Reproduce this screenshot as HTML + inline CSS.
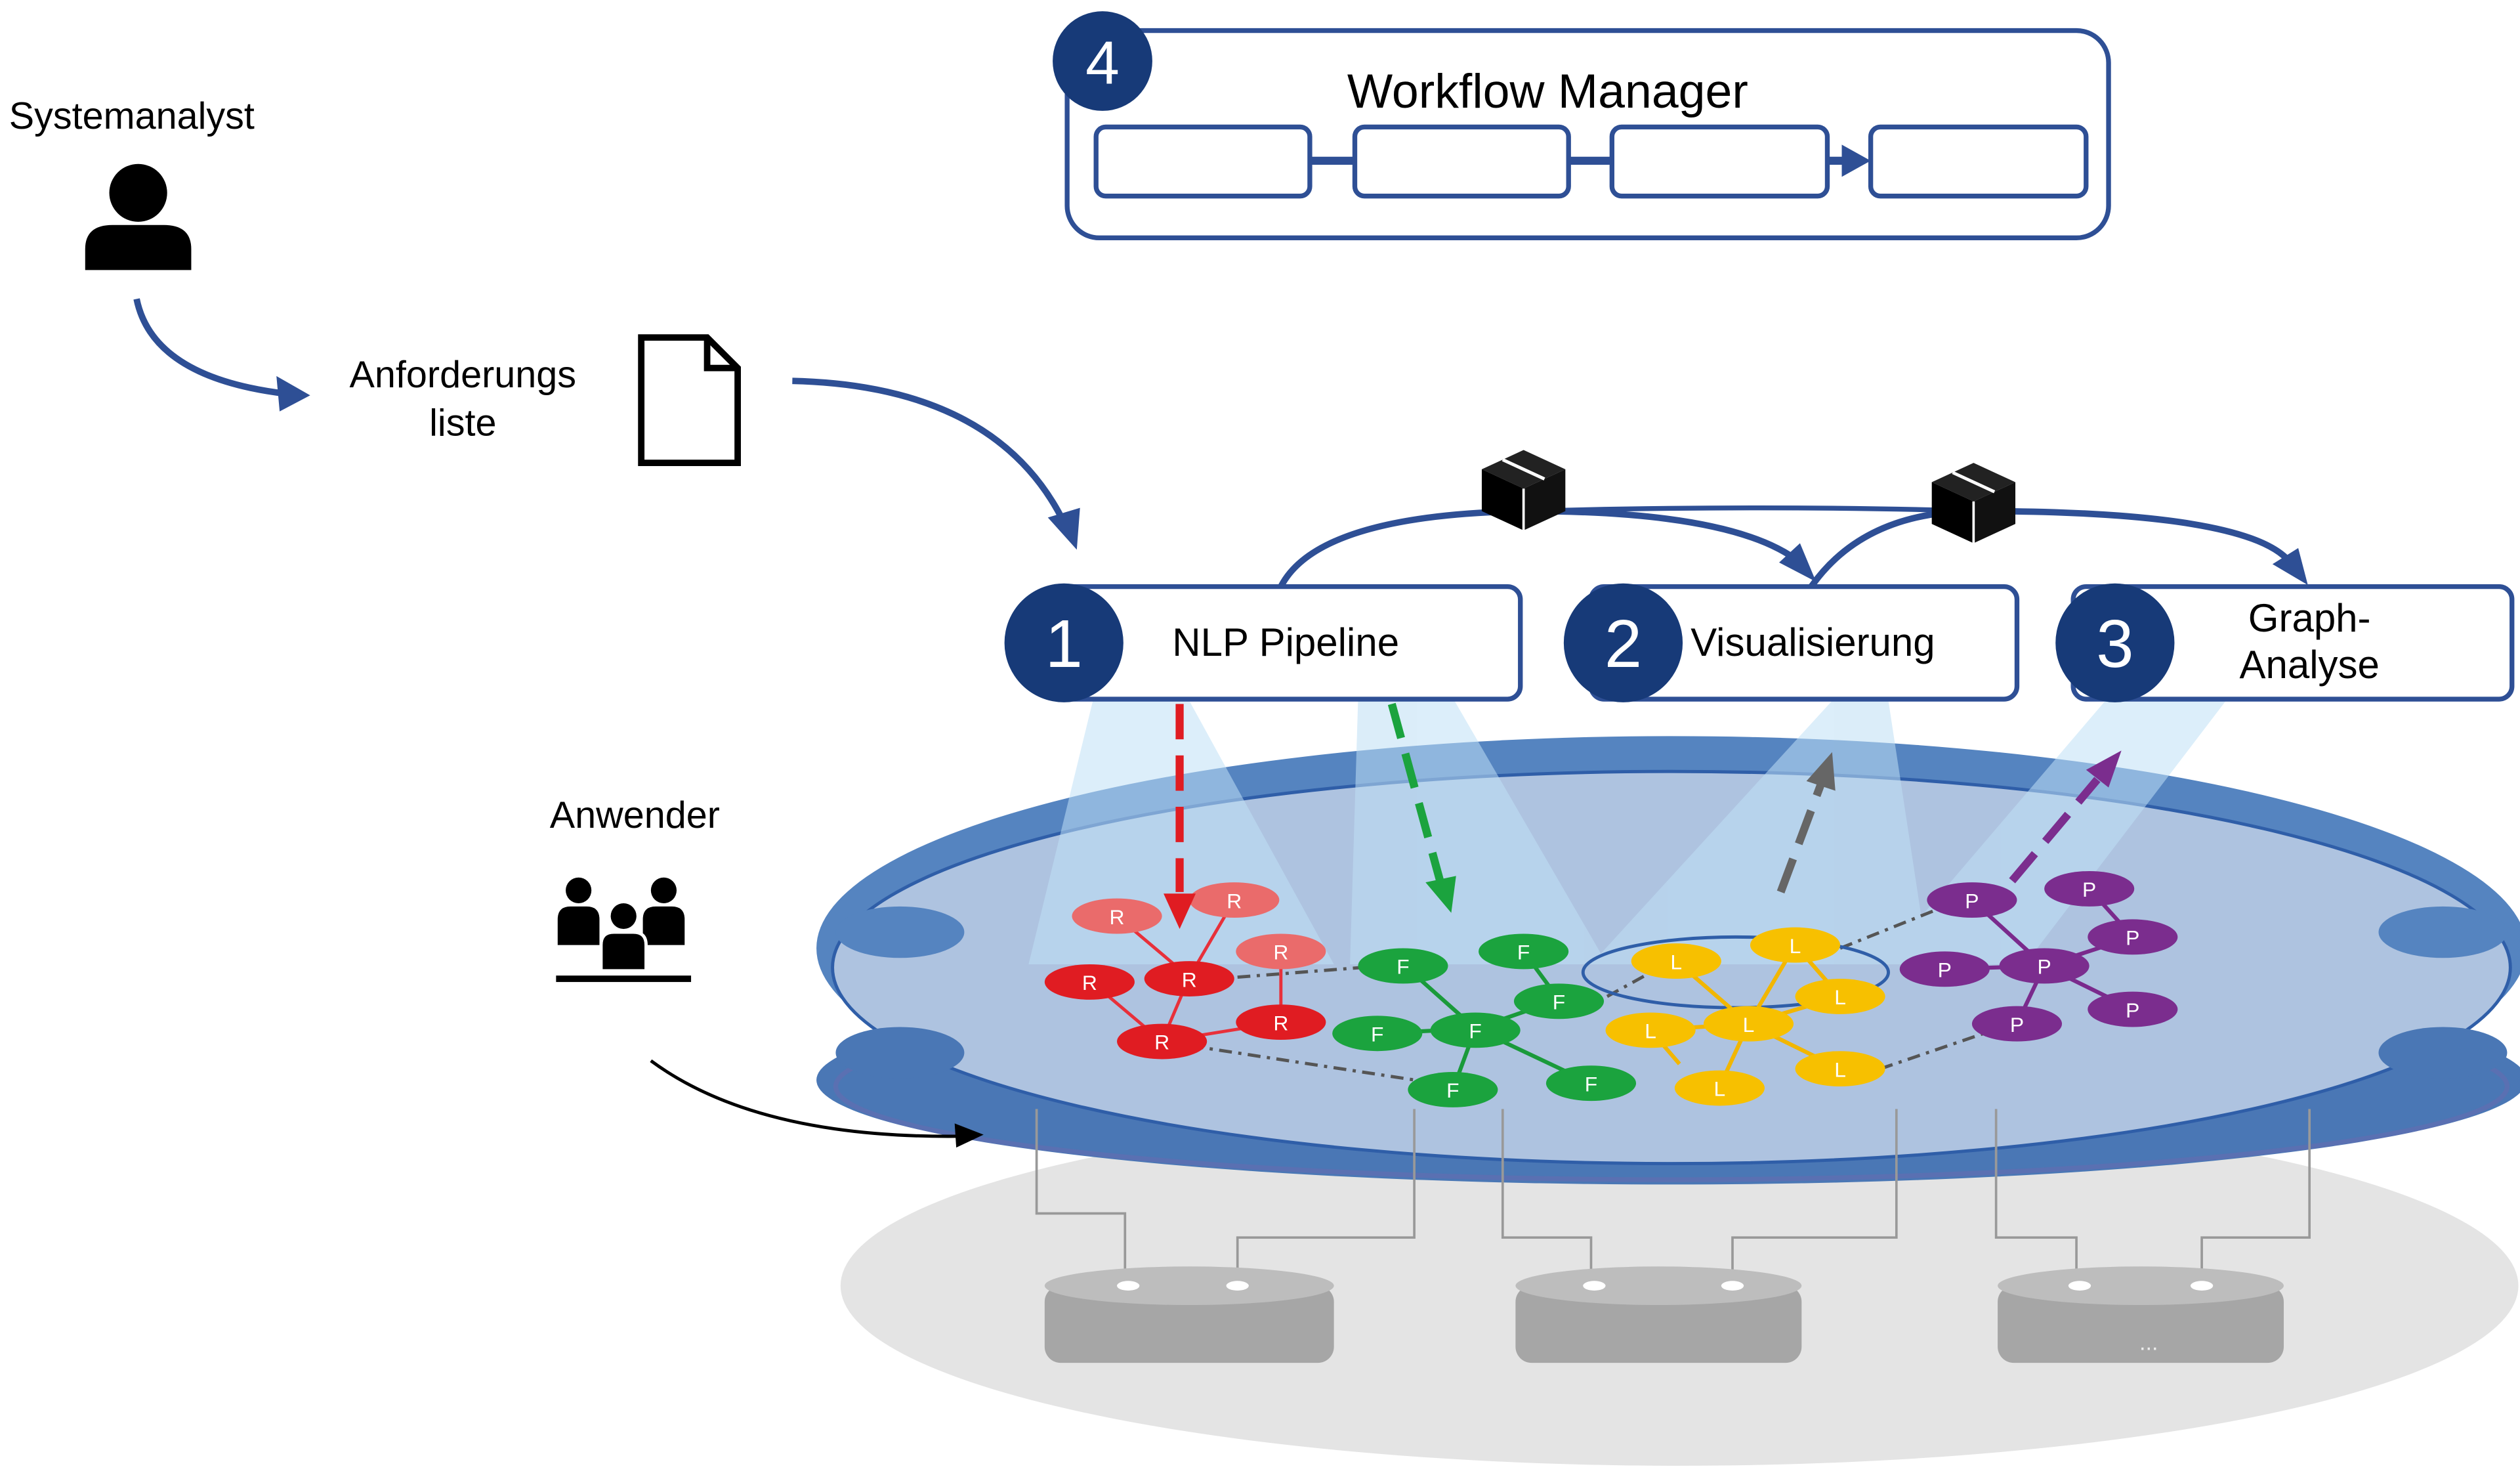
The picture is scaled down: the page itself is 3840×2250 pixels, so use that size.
<!DOCTYPE html>
<html><head><meta charset="utf-8"><style>
html,body{margin:0;padding:0;background:#fff;}
svg{display:block;}
text{font-family:"Liberation Sans",sans-serif;}
</style></head><body>
<svg width="3840" height="2250" viewBox="0 0 1568 919" preserveAspectRatio="none" xmlns="http://www.w3.org/2000/svg">
<rect width="1568" height="919" fill="#fff"/>
<!-- Systemanalyst -->
<text x="82" y="80" font-size="23.5" text-anchor="middle">Systemanalyst</text>
<circle cx="86" cy="120" r="18" fill="#000"/>
<path d="M53,168 L53,155 Q53,140 70,140 L102,140 Q119,140 119,155 L119,168 Z" fill="#000"/>
<path d="M85,186 Q95,235 178,245" fill="none" stroke="#2e4f95" stroke-width="4"/>
<path d="M193,246 L172,234 L174,256 Z" fill="#2e4f95"/>
<text x="288" y="241" font-size="23.5" text-anchor="middle">Anforderungs</text>
<text x="288" y="271" font-size="23.5" text-anchor="middle">liste</text>
<path d="M399,210 L440,210 L459,229 L459,288 L399,288 Z M440,210 L440,229 L459,229" fill="none" stroke="#000" stroke-width="4"/>
<path d="M493,237 Q620,240 662,325" fill="none" stroke="#2e4f95" stroke-width="4"/>
<path d="M670,342 L652,322 L672,316 Z" fill="#2e4f95"/>
<!-- Workflow manager -->
<rect x="664" y="19" width="648" height="129" rx="20" fill="#fff" stroke="#2e4f95" stroke-width="3"/>
<text x="963" y="67" font-size="30" text-anchor="middle">Workflow Manager</text>
<g fill="#fff" stroke="#2e4f95" stroke-width="3">
<rect x="682" y="79" width="133" height="43" rx="6"/>
<rect x="843" y="79" width="133" height="43" rx="6"/>
<rect x="1003" y="79" width="134" height="43" rx="6"/>
<rect x="1164" y="79" width="134" height="43" rx="6"/>
</g>
<g stroke="#2e4f95" stroke-width="5"><line x1="815" y1="100" x2="843" y2="100"/><line x1="976" y1="100" x2="1003" y2="100"/><line x1="1137" y1="100" x2="1150" y2="100"/></g>
<path d="M1164,100 L1146,90 L1146,110 Z" fill="#2e4f95"/>
<circle cx="686" cy="38" r="31" fill="#173a78"/>
<text x="686" y="52" font-size="38" fill="#fff" text-anchor="middle">4</text>
<!-- platform -->
<ellipse cx="1045" cy="800" rx="522" ry="112" fill="#e4e4e4"/>
<ellipse cx="1040" cy="672" rx="532" ry="65" fill="#4a77b5"/>
<ellipse cx="1040" cy="676" rx="520" ry="58" fill="none" stroke="#6a6ab0" stroke-width="3" opacity="0.5"/>
<ellipse cx="1040" cy="590" rx="532" ry="132" fill="#5584c0"/>
<ellipse cx="1040" cy="602" rx="522" ry="122" fill="#aec3e0" stroke="#2f5ea8" stroke-width="2"/>
<ellipse cx="560" cy="580" rx="40" ry="16" fill="#5584c0"/>
<ellipse cx="1520" cy="580" rx="40" ry="16" fill="#5584c0"/>
<ellipse cx="560" cy="655" rx="40" ry="16" fill="#4a77b5"/>
<ellipse cx="1520" cy="655" rx="40" ry="16" fill="#4a77b5"/>
<!-- light beams -->
<g fill="#bfe0f5" opacity="0.55">
<polygon points="680,436 740,436 830,600 640,600"/>
<polygon points="845,436 905,436 1000,600 840,600"/>
<polygon points="1140,436 1175,436 1200,600 990,600"/>
<polygon points="1310,436 1385,436 1260,600 1170,600"/>
</g>
<!-- connectors from platform to DBs -->
<g fill="none" stroke="#999" stroke-width="1.5">
<path d="M645,690 V755 H700 V800"/><path d="M880,690 V770 H770 V800"/>
<path d="M935,690 V770 H990 V800"/><path d="M1180,690 V770 H1078 V800"/>
<path d="M1242,690 V770 H1292 V800"/><path d="M1437,690 V770 H1370 V800"/>
</g>
<!-- DBs -->
<g fill="#a6a6a6">
<rect x="650" y="800" width="180" height="48" rx="10"/>
<rect x="943" y="800" width="178" height="48" rx="10"/>
<rect x="1243" y="800" width="178" height="48" rx="10"/>
</g>
<g fill="#bdbdbd"><ellipse cx="740" cy="800" rx="90" ry="12"/><ellipse cx="1032" cy="800" rx="89" ry="12"/><ellipse cx="1332" cy="800" rx="89" ry="12"/></g>
<g fill="#fff"><ellipse cx="702" cy="800" rx="7" ry="3"/><ellipse cx="770" cy="800" rx="7" ry="3"/><ellipse cx="992" cy="800" rx="7" ry="3"/><ellipse cx="1078" cy="800" rx="7" ry="3"/><ellipse cx="1294" cy="800" rx="7" ry="3"/><ellipse cx="1370" cy="800" rx="7" ry="3"/></g>
<text x="1337" y="840" font-size="14" fill="#eee" text-anchor="middle">...</text>
<!-- graph edges -->
<g stroke="#555" stroke-width="2" stroke-dasharray="8,4,2,4" fill="none">
<line x1="770" y1="608" x2="873" y2="600"/><line x1="723" y1="648" x2="900" y2="675"/>
<line x1="1000" y1="620" x2="1040" y2="598"/><line x1="1145" y1="590" x2="1220" y2="560"/>
<line x1="1170" y1="665" x2="1255" y2="636"/>
</g>
<ellipse cx="1080" cy="605" rx="95" ry="22" fill="none" stroke="#2f5ea8" stroke-width="2"/>
<g stroke="#e8303a" stroke-width="2"><line x1="695" y1="570" x2="740" y2="608"/><line x1="768" y1="560" x2="740" y2="608"/><line x1="678" y1="610" x2="723" y2="648"/><line x1="740" y1="608" x2="723" y2="648"/><line x1="797" y1="592" x2="797" y2="636"/><line x1="797" y1="636" x2="723" y2="648"/></g>
<g stroke="#1a9a3a" stroke-width="2.5"><line x1="873" y1="600" x2="918" y2="640"/><line x1="857" y1="643" x2="918" y2="640"/><line x1="948" y1="592" x2="970" y2="622"/><line x1="970" y1="622" x2="918" y2="640"/><line x1="918" y1="640" x2="904" y2="678"/><line x1="918" y1="640" x2="990" y2="674"/></g>
<g stroke="#f2b600" stroke-width="2.5"><line x1="1043" y1="598" x2="1088" y2="637"/><line x1="1117" y1="588" x2="1088" y2="637"/><line x1="1145" y1="620" x2="1088" y2="637"/><line x1="1027" y1="641" x2="1088" y2="637"/><line x1="1088" y1="637" x2="1070" y2="676"/><line x1="1088" y1="637" x2="1145" y2="665"/><line x1="1117" y1="588" x2="1145" y2="620"/><line x1="1027" y1="641" x2="1045" y2="662"/></g>
<g stroke="#7a2a8c" stroke-width="2.5"><line x1="1227" y1="560" x2="1272" y2="601"/><line x1="1210" y1="603" x2="1272" y2="601"/><line x1="1300" y1="553" x2="1327" y2="583"/><line x1="1327" y1="583" x2="1272" y2="601"/><line x1="1272" y1="601" x2="1255" y2="637"/><line x1="1272" y1="601" x2="1327" y2="628"/></g>
<!-- nodes -->
<g font-size="13" fill="#fff" text-anchor="middle">
<g fill="#ea6b6b"><ellipse cx="695" cy="570" rx="28" ry="11"/><ellipse cx="768" cy="560" rx="28" ry="11"/><ellipse cx="797" cy="592" rx="28" ry="11"/></g>
<g fill="#e01c22"><ellipse cx="678" cy="611" rx="28" ry="11"/><ellipse cx="740" cy="609" rx="28" ry="11"/><ellipse cx="797" cy="636" rx="28" ry="11"/><ellipse cx="723" cy="648" rx="28" ry="11"/></g>
<g fill="#1ba33e"><ellipse cx="873" cy="601" rx="28" ry="11"/><ellipse cx="948" cy="592" rx="28" ry="11"/><ellipse cx="970" cy="623" rx="28" ry="11"/><ellipse cx="857" cy="643" rx="28" ry="11"/><ellipse cx="918" cy="641" rx="28" ry="11"/><ellipse cx="904" cy="678" rx="28" ry="11"/><ellipse cx="990" cy="674" rx="28" ry="11"/></g>
<g fill="#f7c000"><ellipse cx="1043" cy="598" rx="28" ry="11"/><ellipse cx="1117" cy="588" rx="28" ry="11"/><ellipse cx="1145" cy="620" rx="28" ry="11"/><ellipse cx="1027" cy="641" rx="28" ry="11"/><ellipse cx="1088" cy="637" rx="28" ry="11"/><ellipse cx="1070" cy="677" rx="28" ry="11"/><ellipse cx="1145" cy="665" rx="28" ry="11"/></g>
<g fill="#7b2d8e"><ellipse cx="1227" cy="560" rx="28" ry="11"/><ellipse cx="1300" cy="553" rx="28" ry="11"/><ellipse cx="1327" cy="583" rx="28" ry="11"/><ellipse cx="1210" cy="603" rx="28" ry="11"/><ellipse cx="1272" cy="601" rx="28" ry="11"/><ellipse cx="1327" cy="628" rx="28" ry="11"/><ellipse cx="1255" cy="637" rx="28" ry="11"/></g>
<text x="695" y="575">R</text><text x="768" y="565">R</text><text x="797" y="597">R</text><text x="678" y="616">R</text><text x="740" y="614">R</text><text x="797" y="641">R</text><text x="723" y="653">R</text>
<text x="873" y="606">F</text><text x="948" y="597">F</text><text x="970" y="628">F</text><text x="857" y="648">F</text><text x="918" y="646">F</text><text x="904" y="683">F</text><text x="990" y="679">F</text>
<text x="1043" y="603">L</text><text x="1117" y="593">L</text><text x="1145" y="625">L</text><text x="1027" y="646">L</text><text x="1088" y="642">L</text><text x="1070" y="682">L</text><text x="1145" y="670">L</text>
<text x="1227" y="565">P</text><text x="1300" y="558">P</text><text x="1327" y="588">P</text><text x="1210" y="608">P</text><text x="1272" y="606">P</text><text x="1327" y="633">P</text><text x="1255" y="642">P</text>
</g>
<!-- dashed arrows -->
<line x1="734" y1="438" x2="734" y2="555" stroke="#e01c22" stroke-width="5" stroke-dasharray="22,10"/>
<path d="M734,578 L724,556 L744,556 Z" fill="#e01c22"/>
<line x1="866" y1="438" x2="896" y2="548" stroke="#1ba33e" stroke-width="5" stroke-dasharray="22,10"/>
<path d="M903,568 L887,549 L906,545 Z" fill="#1ba33e"/>
<line x1="1108" y1="555" x2="1133" y2="488" stroke="#666" stroke-width="5" stroke-dasharray="22,10"/>
<path d="M1140,468 L1142,492 L1124,486 Z" fill="#666"/>
<line x1="1252" y1="548" x2="1305" y2="485" stroke="#7b2d8e" stroke-width="5" stroke-dasharray="22,10"/>
<path d="M1320,467 L1312,490 L1298,479 Z" fill="#7b2d8e"/>
<!-- top arcs -->
<path d="M797,365 Q820,320 950,318 Q1080,318 1120,350" fill="none" stroke="#2e4f95" stroke-width="4"/>
<path d="M1130,362 L1107,350 L1120,338 Z" fill="#2e4f95"/>
<path d="M1127,365 Q1160,318 1230,318 Q1400,318 1425,350" fill="none" stroke="#2e4f95" stroke-width="4"/>
<path d="M1436,364 L1414,351 L1430,341 Z" fill="#2e4f95"/>
<path d="M950,318 Q1100,314 1230,318" fill="none" stroke="#2e4f95" stroke-width="3"/>
<!-- cubes -->
<g>
<polygon points="922,292 948,280 974,292 948,304" fill="#222"/>
<polygon points="922,292 948,304 948,330 922,318" fill="#000"/>
<polygon points="948,304 974,292 974,318 948,330" fill="#111"/>
<line x1="935" y1="286" x2="961" y2="298" stroke="#fff" stroke-width="2"/><line x1="948" y1="304" x2="948" y2="330" stroke="#fff" stroke-width="1.5"/>
<polygon points="1202,300 1228,288 1254,300 1228,312" fill="#222"/>
<polygon points="1202,300 1228,312 1228,338 1202,326" fill="#000"/>
<polygon points="1228,312 1254,300 1254,326 1228,338" fill="#111"/>
<line x1="1215" y1="294" x2="1241" y2="306" stroke="#fff" stroke-width="2"/><line x1="1228" y1="312" x2="1228" y2="338" stroke="#fff" stroke-width="1.5"/>
</g>
<!-- boxes 1,2,3 -->
<g fill="#fff" stroke="#2e4f95" stroke-width="3">
<rect x="660" y="365" width="286" height="70" rx="8"/>
<rect x="990" y="365" width="265" height="70" rx="8"/>
<rect x="1290" y="365" width="273" height="70" rx="8"/>
</g>
<g fill="#173a78"><circle cx="662" cy="400" r="37"/><circle cx="1010" cy="400" r="37"/><circle cx="1316" cy="400" r="37"/></g>
<g fill="#fff" font-size="42" text-anchor="middle"><text x="662" y="415">1</text><text x="1010" y="415">2</text><text x="1316" y="415">3</text></g>
<g font-size="24.5" text-anchor="middle"><text x="800" y="408">NLP Pipeline</text><text x="1128" y="408">Visualisierung</text><text x="1437" y="393">Graph-</text><text x="1437" y="422">Analyse</text></g>
<!-- Anwender -->
<text x="395" y="515" font-size="23.5" text-anchor="middle">Anwender</text>
<g fill="#000">
<circle cx="360" cy="554" r="8"/><path d="M347,588 V572 Q347,564 355,564 H365 Q373,564 373,572 V588 Z"/>
<circle cx="413" cy="554" r="8"/><path d="M400,588 V572 Q400,564 408,564 H418 Q426,564 426,572 V588 Z"/>
<circle cx="388" cy="570" r="8"/><path d="M374,604 V588 Q374,580 382,580 H394 Q402,580 402,588 V604 Z" stroke="#fff" stroke-width="2"/>
<rect x="346" y="607" width="84" height="4"/>
</g>
<path d="M405,660 Q470,708 595,707" fill="none" stroke="#000" stroke-width="2"/>
<path d="M612,706 L594,699 L595,714 Z" fill="#000"/>
</svg>
</body></html>
